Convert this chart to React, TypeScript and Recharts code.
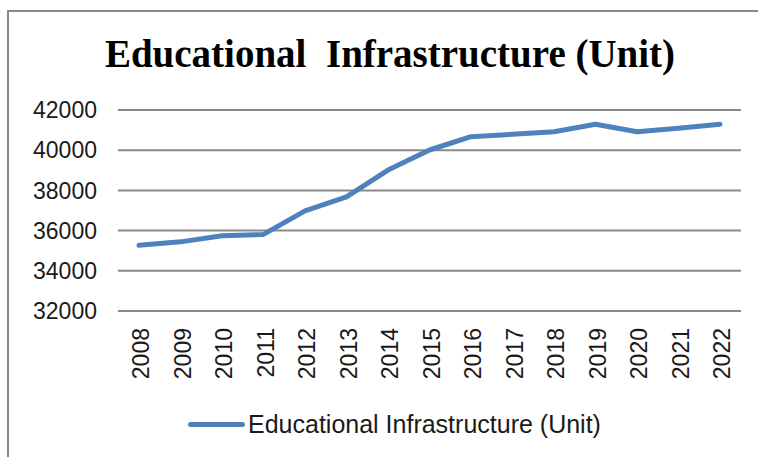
import React from 'react'
import { LineChart, Line, XAxis, YAxis, CartesianGrid, Legend } from 'recharts'

const YEARS = ['2008', '2009', '2010', '2011', '2012', '2013', '2014', '2015', '2016', '2017', '2018', '2019', '2020', '2021', '2022']
const UNITS = [35270, 35440, 35740, 35810, 36980, 37680, 39010, 40010, 40670, 40790, 40920, 41290, 40920, 41090, 41290]
const Y_TICKS = [32000, 34000, 36000, 38000, 40000, 42000]

const SERIES = 'Educational Infrastructure (Unit)'
const BLUE = '#4f81bd'
const GRID = '#898989'
const SANS = '"Liberation Sans", Arial, sans-serif'

const chartData = YEARS.map((year, i) => ({ year, value: UNITS[i] }))

// rotated year labels, reading bottom-to-top like the Excel original
function YearTick({ x, y, payload }: { x: number; y: number; payload: { value: string } }) {
  return (
    <text
      x={x + 2}
      y={y}
      transform={`rotate(-90 ${x + 2} ${y})`}
      textAnchor="end"
      dominantBaseline="central"
      fontFamily={SANS}
      fontSize={23}
      fill="#1a1a1a"
    >
      {payload.value}
    </text>
  )
}

function LegendBox() {
  return (
    <div style={{ height: 66, position: 'relative', fontFamily: SANS }}>
      <div
        style={{
          position: 'absolute',
          left: 188,
          top: 21,
          display: 'flex',
          alignItems: 'center',
          height: 25,
        }}
      >
        <div style={{ width: 57, height: 5, borderRadius: 3, background: BLUE }} />
        <span style={{ marginLeft: 3, fontSize: 25, lineHeight: '25px', color: '#1a1a1a', whiteSpace: 'nowrap' }}>
          {SERIES}
        </span>
      </div>
    </div>
  )
}

export default function App() {
  return (
    <div style={{ position: 'absolute', left: 0, top: 0, width: 758, height: 457, overflow: 'hidden', background: '#fff' }}>
      {/* chart frame */}
      <div
        style={{
          position: 'absolute',
          left: 7,
          top: 10,
          width: 800,
          height: 500,
          border: `2px solid ${GRID}`,
          boxSizing: 'border-box',
        }}
      />
      <div
        style={{
          position: 'absolute',
          left: 0,
          top: 34,
          width: 780,
          textAlign: 'center',
          fontFamily: '"Liberation Serif", "Times New Roman", serif',
          fontWeight: 700,
          fontSize: 39,
          lineHeight: '39px',
          color: '#000',
          whiteSpace: 'pre',
        }}
      >
        {'Educational  Infrastructure (Unit)'}
      </div>
      <div style={{ position: 'absolute', left: 0, top: 0 }}>
        <LineChart width={758} height={457} data={chartData} margin={{ top: 110, right: 17, bottom: 0, left: 0 }}>
          <CartesianGrid vertical={false} stroke={GRID} strokeWidth={2} />
          <XAxis
            dataKey="year"
            height={80}
            padding={{ left: 21, right: 21 }}
            axisLine={{ stroke: GRID, strokeWidth: 2 }}
            tickLine={false}
            tickSize={0}
            tickMargin={17}
            interval={0}
            tick={(props: any) => <YearTick {...props} />}
          />
          <YAxis
            width={118}
            domain={[32000, 42000]}
            ticks={Y_TICKS}
            axisLine={false}
            tickLine={false}
            tickSize={0}
            tickMargin={21}
            tick={{ fontFamily: SANS, fontSize: 23, fill: '#1a1a1a' }}
          />
          <Legend
            verticalAlign="bottom"
            wrapperStyle={{ left: 0, width: 758 }}
            content={() => <LegendBox />}
          />
          <Line
            dataKey="value"
            name={SERIES}
            stroke={BLUE}
            strokeWidth={5}
            strokeLinejoin="round"
            strokeLinecap="round"
            dot={false}
            activeDot={false}
            isAnimationActive={false}
          />
        </LineChart>
      </div>
    </div>
  )
}
